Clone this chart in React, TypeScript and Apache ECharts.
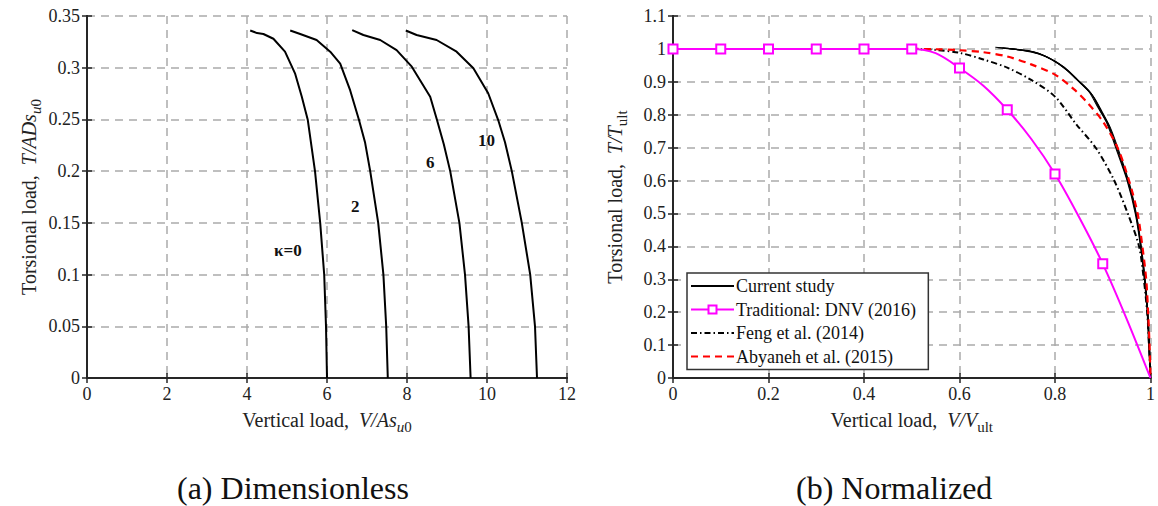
import React, { useEffect, useRef } from "react";
import * as echarts from "echarts";

// ---------- Data: (a) Dimensionless ----------
const kappaLabels = ["κ=0", "2", "6", "10"];
const curveK0: [number, number][] = [
  [4.08, 0.336], [4.25, 0.3335], [4.41, 0.3326], [4.66, 0.328], [4.95, 0.3155], [5.2, 0.2946],
  [5.37, 0.272], [5.52, 0.2494], [5.7, 0.2], [5.83, 0.15], [5.93, 0.1], [5.975, 0.05], [6.0, 0],
];
const curveK2: [number, number][] = [
  [5.08, 0.336], [5.33, 0.3326], [5.74, 0.3268], [6.08, 0.3155], [6.33, 0.304], [6.58, 0.278],
  [6.8, 0.2494], [6.95, 0.228], [7.08, 0.2], [7.28, 0.15], [7.41, 0.1], [7.48, 0.05], [7.52, 0],
];
const curveK6: [number, number][] = [
  [6.63, 0.3364], [6.91, 0.3316], [7.33, 0.3268], [7.74, 0.317], [8.12, 0.301], [8.58, 0.272],
  [8.75, 0.2494], [8.92, 0.226], [9.08, 0.2], [9.31, 0.15], [9.45, 0.1], [9.54, 0.05], [9.59, 0],
];
const curveK10: [number, number][] = [
  [7.97, 0.336], [8.24, 0.3316], [8.74, 0.3268], [9.24, 0.3155], [9.66, 0.2994], [10.03, 0.2753],
  [10.28, 0.2494], [10.45, 0.228], [10.62, 0.2], [10.87, 0.15], [11.08, 0.1], [11.2, 0.05], [11.25, 0],
];

// ---------- Data: (b) Normalized ----------
const legendNames = ["Current study", "Traditional: DNV (2016)", "Feng et al. (2014)", "Abyaneh et al. (2015)"];
const current1: [number, number][] = [
  [0.675, 1.005], [0.71, 1.0], [0.75, 0.993], [0.78, 0.978], [0.815, 0.948], [0.845, 0.908], [0.87, 0.872],
  [0.89, 0.822], [0.908, 0.776], [0.927, 0.7], [0.951, 0.6], [0.968, 0.5], [0.979, 0.4], [0.987, 0.3],
  [0.993, 0.2], [0.996, 0.1], [1, 0],
];
const current2: [number, number][] = [
  [0.68, 1.004], [0.715, 0.999], [0.755, 0.991], [0.785, 0.975], [0.82, 0.944], [0.85, 0.903], [0.875, 0.866],
  [0.894, 0.815], [0.911, 0.77], [0.93, 0.695], [0.953, 0.595], [0.97, 0.495], [0.98, 0.395], [0.988, 0.295],
  [0.994, 0.195], [0.997, 0.095], [1, 0],
];
const current3: [number, number][] = [
  [0.69, 1.003], [0.725, 0.997], [0.76, 0.988], [0.79, 0.97], [0.823, 0.938], [0.853, 0.897], [0.878, 0.86],
  [0.897, 0.81], [0.914, 0.763], [0.932, 0.69], [0.955, 0.59], [0.971, 0.49], [0.981, 0.39], [0.989, 0.29],
  [0.995, 0.19], [0.998, 0.09], [1, 0],
];
const current4: [number, number][] = [
  [0.7, 1.002], [0.73, 0.996], [0.765, 0.985], [0.795, 0.966], [0.827, 0.933], [0.856, 0.892], [0.881, 0.854],
  [0.9, 0.805], [0.917, 0.757], [0.935, 0.685], [0.957, 0.585], [0.972, 0.485], [0.982, 0.385], [0.99, 0.285],
  [0.995, 0.185], [0.998, 0.085], [1, 0],
];
const dnvV = [0, 0.1, 0.2, 0.3, 0.4, 0.5, 0.55, 0.6, 0.65, 0.7, 0.75, 0.8, 0.85, 0.9, 0.95, 1];
const dnvT = [1, 1, 1, 1, 1, 1, 0.987, 0.942, 0.888, 0.815, 0.727, 0.62, 0.49, 0.347, 0.18, 0];
const dnvMarked = [true, true, true, true, true, true, false, true, false, true, false, true, false, true, false, false];
const feng: [number, number][] = [
  [0.5, 1], [0.55, 0.997], [0.6, 0.988], [0.65, 0.968], [0.7, 0.943], [0.75, 0.906], [0.8, 0.855],
  [0.845, 0.77], [0.886, 0.698], [0.924, 0.6], [0.955, 0.49], [0.976, 0.4], [0.986, 0.3], [0.993, 0.2],
  [0.997, 0.1], [1, 0],
];
const abyaneh: [number, number][] = [
  [0.5, 1], [0.55, 0.999], [0.6, 0.996], [0.65, 0.99], [0.7, 0.977], [0.75, 0.953], [0.8, 0.922],
  [0.84, 0.877], [0.87, 0.833], [0.9, 0.78], [0.931, 0.7], [0.955, 0.6], [0.973, 0.5], [0.983, 0.4],
  [0.991, 0.3], [0.995, 0.2], [0.998, 0.1], [1, 0],
];

const FONT = "Liberation Serif";
const AX = "#262626";

function mainX(gi: number, min: number, max: number, interval: number, name: string, rich: any): any {
  return {
    type: "value", gridIndex: gi, min, max, interval, position: "bottom",
    name, nameLocation: "middle", nameGap: 27,
    nameTextStyle: { fontFamily: FONT, fontSize: 20, color: "#222", rich },
    axisLine: { show: true, lineStyle: { color: AX, width: 2 } },
    axisTick: { show: true, inside: true, length: 5, lineStyle: { color: AX, width: 1.5 } },
    axisLabel: { fontFamily: FONT, fontSize: 18, color: "#222", margin: 7 },
    splitLine: { show: true, lineStyle: { color: "#aaaaaa", width: 1.5, type: [8, 6] } },
  };
}
function mainY(gi: number, min: number, max: number, interval: number, name: string, rich: any): any {
  return {
    type: "value", gridIndex: gi, min, max, interval, position: "left",
    name, nameLocation: "middle", nameGap: 44,
    nameTextStyle: { fontFamily: FONT, fontSize: 20, color: "#222", rich },
    axisLine: { show: true, lineStyle: { color: AX, width: 2 } },
    axisTick: { show: true, inside: true, length: 5, lineStyle: { color: AX, width: 1.5 } },
    axisLabel: { fontFamily: FONT, fontSize: 18, color: "#222", margin: 7 },
    splitLine: { show: true, lineStyle: { color: "#aaaaaa", width: 1.5, type: [8, 6] } },
  };
}
function mirrorX(gi: number, min: number, max: number, interval: number): any {
  return {
    type: "value", gridIndex: gi, min, max, interval, position: "top",
    axisLine: { show: true, lineStyle: { color: AX, width: 2 } },
    axisTick: { show: true, inside: true, length: 5, lineStyle: { color: AX, width: 1.5 } },
    axisLabel: { show: false }, splitLine: { show: false },
  };
}
function mirrorY(gi: number, min: number, max: number, interval: number): any {
  return {
    type: "value", gridIndex: gi, min, max, interval, position: "right",
    axisLine: { show: true, lineStyle: { color: AX, width: 2 } },
    axisTick: { show: true, inside: true, length: 5, lineStyle: { color: AX, width: 1.5 } },
    axisLabel: { show: false }, splitLine: { show: false },
  };
}

const subRich = {
  n: { fontFamily: FONT, fontSize: 20, color: "#222" },
  it: { fontFamily: FONT, fontSize: 20, fontStyle: "italic", color: "#222" },
  subi: { fontFamily: FONT, fontSize: 15, fontStyle: "italic", color: "#222", padding: [14, 0, 0, 0] },
  sub: { fontFamily: FONT, fontSize: 15, color: "#222", padding: [14, 0, 0, 0] },
};

const hiddenMark = { color: "rgba(0,0,0,0)", borderColor: "rgba(0,0,0,0)", borderWidth: 0 };

export default function App() {
  const ref = useRef<HTMLDivElement>(null);
  useEffect(() => {
    document.body.style.margin = "0";
    const chart = echarts.init(ref.current!, undefined, { renderer: "svg" });
    const blackLine = (data: [number, number][], name: string, idx: number): any => ({
      type: "line", name, xAxisIndex: idx, yAxisIndex: idx, data, showSymbol: false, symbol: "none",
      lineStyle: { color: "#000", width: 2 }, silent: true,
    });
    const thin = (data: [number, number][], name: string): any => ({
      type: "line", name, xAxisIndex: 2, yAxisIndex: 2, data, symbol: "none",
      lineStyle: { color: "#000", width: 1.1 }, itemStyle: { color: "#000" }, smooth: 0.3,
    });
    const option: any = {
      animation: false,
      backgroundColor: "#fff",
      textStyle: { fontFamily: FONT },
      grid: [
        { left: 87, top: 16, width: 480, height: 362 },
        { left: 673, top: 16, width: 482, height: 362 },
      ],
      xAxis: [
        mainX(0, 0, 12, 2, "{n|Vertical load,  }{it|V/As}{subi|u}{sub|0}", subRich),
        mirrorX(0, 0, 12, 2),
        mainX(1, 0, 1, 0.2, "{n|Vertical load,  }{it|V/V}{sub|ult}", subRich),
        mirrorX(1, 0, 1, 0.2),
      ],
      yAxis: [
        mainY(0, 0, 0.35, 0.05, "{n|Torsional load,  }{it|T/ADs}{subi|u}{sub|0}", subRich),
        mirrorY(0, 0, 0.35, 0.05),
        mainY(1, 0, 1.1, 0.1, "{n|Torsional load,  }{it|T/T}{sub|ult}", subRich),
        mirrorY(1, 0, 1.1, 0.1),
      ],
      legend: {
        data: [
          { name: legendNames[0], itemStyle: hiddenMark },
          { name: legendNames[1] },
          { name: legendNames[2], itemStyle: hiddenMark },
          { name: legendNames[3], itemStyle: hiddenMark },
        ],
        orient: "vertical",
        left: 687, top: 273,
        itemWidth: 43, itemHeight: 10, itemGap: 5.5,
        padding: [4, 12, 4, 3],
        borderColor: "#333", borderWidth: 1.5, backgroundColor: "#fff",
        textStyle: { fontFamily: FONT, fontSize: 18, color: "#111", padding: [0, 0, 0, -3] },
      },
      series: [
        blackLine(curveK0, "k0", 0),
        blackLine(curveK2, "k2", 0),
        blackLine(curveK6, "k6", 0),
        blackLine(curveK10, "k10", 0),
        thin(current1, legendNames[0]),
        thin(current2, "cs2"),
        thin(current3, "cs3"),
        thin(current4, "cs4"),
        {
          type: "line", name: legendNames[2], xAxisIndex: 2, yAxisIndex: 2, data: feng, symbol: "none",
          smooth: 0.3, lineStyle: { color: "#000", width: 2, type: [6, 3, 1.5, 3] }, itemStyle: { color: "#000" },
        },
        {
          type: "line", name: legendNames[3], xAxisIndex: 2, yAxisIndex: 2, data: abyaneh, symbol: "none",
          smooth: 0.3, lineStyle: { color: "#ff0000", width: 2.2, type: [7, 5] }, itemStyle: { color: "#ff0000" },
        },
        {
          type: "line", name: legendNames[1], xAxisIndex: 2, yAxisIndex: 2,
          data: dnvV.map((v, i) => ({
            value: [v, dnvT[i]],
            symbol: dnvMarked[i] ? "rect" : "none",
          })),
          showAllSymbol: true, symbol: "rect", symbolSize: 9, smooth: 0.3,
          lineStyle: { color: "#ff00ff", width: 2 },
          itemStyle: { color: "#fff", borderColor: "#ff00ff", borderWidth: 2 },
          z: 5,
        },
      ],
      graphic: [
        { type: "text", left: 274, top: 242, style: { text: "κ=0", fontFamily: FONT, fontWeight: "bold", fontSize: 17, fill: "#111" } },
        { type: "text", left: 351, top: 198, style: { text: kappaLabels[1], fontFamily: FONT, fontWeight: "bold", fontSize: 17, fill: "#111" } },
        { type: "text", left: 426, top: 154, style: { text: kappaLabels[2], fontFamily: FONT, fontWeight: "bold", fontSize: 17, fill: "#111" } },
        { type: "text", left: 478, top: 132, style: { text: kappaLabels[3], fontFamily: FONT, fontWeight: "bold", fontSize: 17, fill: "#111" } },
        { type: "text", left: 177, top: 472, style: { text: "(a) Dimensionless", fontFamily: FONT, fontSize: 32, fill: "#111" } },
        { type: "text", left: 796, top: 472, style: { text: "(b) Normalized", fontFamily: FONT, fontSize: 32, fill: "#111" } },
      ],
    };
    chart.setOption(option);
    return () => chart.dispose();
  }, []);
  return <div ref={ref} style={{ width: 1158, height: 506 }} />;
}
